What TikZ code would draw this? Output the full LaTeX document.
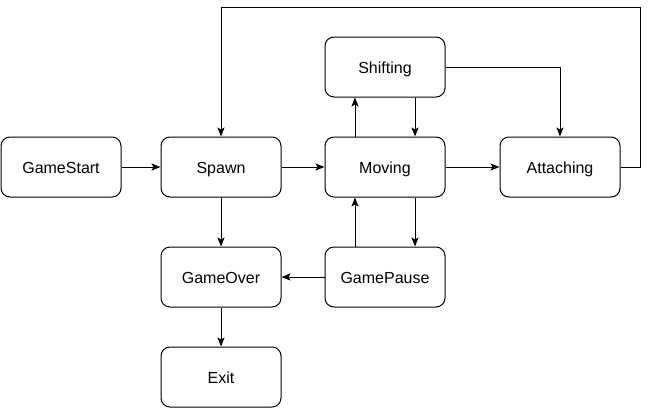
\documentclass[tikz,border=0pt]{standalone}
\usepackage{fontspec}
\setmainfont{Liberation Sans}
\usetikzlibrary{arrows.meta}
\begin{document}
\begin{tikzpicture}[x=1pt,y=-1pt,
  state/.style={draw, rounded corners=9pt, minimum width=120pt, minimum height=60pt, inner sep=0pt, text height=13.5pt, text depth=0pt, font=\fontsize{16}{19}\selectfont, line width=1pt},
  arr/.style={-{Stealth[length=9pt,width=7pt,inset=2pt]}, line width=1pt}]
\useasboundingbox (0,0) rectangle (649,408);
\node[state] (gs) at (61,167) {GameStart};
\node[state] (sp) at (221,167) {Spawn};
\node[state] (mv) at (385,167) {Moving};
\node[state] (at) at (560,167) {Attaching};
\node[state] (sh) at (385,67) {Shifting};
\node[state] (go) at (221,277) {GameOver};
\node[state] (gp) at (385,277) {GamePause};
\node[state] (ex) at (221,377) {Exit};
\coordinate (c1) at (640,7);
\draw[arr] (gs) -- (sp);
\draw[arr] (sp) -- (mv);
\draw[arr] (mv) -- (at);
\draw[arr] (sp) -- (go);
\draw[arr] (go) -- (ex);
\draw[arr] (gp) -- (go);
\draw[arr] ([xshift=-30pt]mv.north) -- ([xshift=-30pt]sh.south);
\draw[arr] ([xshift=30pt]sh.south) -- ([xshift=30pt]mv.north);
\draw[arr] ([xshift=30pt]mv.south) -- ([xshift=30pt]gp.north);
\draw[arr] ([xshift=-30pt]gp.north) -- ([xshift=-30pt]mv.south);
\draw[arr] (sh.east) -| (at.north);
\draw[arr] (at.east) -| (c1) -| (sp.north);
\end{tikzpicture}
\end{document}
